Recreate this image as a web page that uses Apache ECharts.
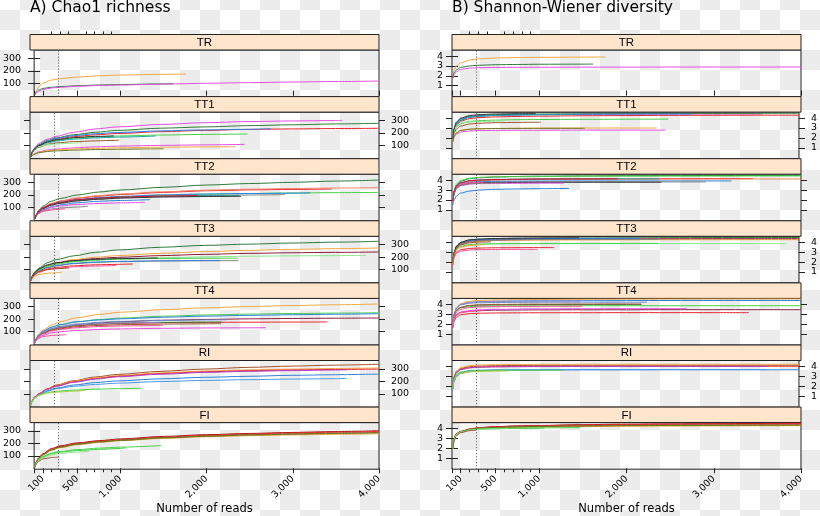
<!DOCTYPE html>
<html><head><meta charset="utf-8">
<script src="https://cdn.jsdelivr.net/npm/echarts@6/dist/echarts.min.js"></script>
<style>
html,body{margin:0;padding:0;}
body{width:820px;height:516px;overflow:hidden;background-color:#fff;
background-image:conic-gradient(transparent 25%, #ececec 0 50%, transparent 0 75%, #ececec 0);
background-size:40px 40px;background-position:0 10px;}
#c{width:820px;height:516px;}
</style></head><body><div id="c"></div>
<script>
// ---------- data ----------
const depths = [10,25,50,100,200,300,500,750,1000,1500,2000,2500,3000,3500,4000];
const panels = ['TR','TT1','TT2','TT3','TT4','RI','FI'];
const xLabelTicks = [100,500,1000,2000,3000,4000];
const xMajorTicks = [0,100,500,1000,2000,3000,4000];
const xMinorTicks = [200,300,400,600,700,800,900];
const chaoTicks = [100,200,300];
const shanTicks = [1,2,3,4];
const cutoffReads = 275;

const TR_ends = [1760,1617,4000];
const TR_chao = [
 [9,40,70,100,125,137,150,160,166,172,174],
 [8,30,45,58,68,73,80,86,90,95,97],
 [7,22,36,50,62,68,76,82,86,93,100,105,110,114,118]];
const TR_shan = [
 [1.9,2.6,3.0,3.3,3.6,3.72,3.8,3.85,3.87,3.89,3.9],
 [1.8,2.3,2.6,2.85,3.0,3.07,3.12,3.15,3.17,3.18,3.19],
 [1.7,2.1,2.4,2.65,2.78,2.82,2.85,2.86,2.87,2.88,2.88,2.89,2.89,2.89,2.89]];

const TT1_ends = [3581,4000,4000,2764,2494,1443,1023,591,2462,2359,1530,964];
const TT1_chao = [
 [9,50,80,115,150,172,205,232,248,268,282,291,296,299,301],
 [9,48,75,105,140,160,185,205,220,238,248,258,265,272,277],
 [9,45,72,100,130,148,170,185,195,210,220,228,232,235,237],
 [9,45,72,100,135,155,178,193,203,216,224,229,233],
 [9,45,70,95,125,140,158,168,175,183,188,191],
 [9,42,65,90,120,135,150,160,166,175],
 [9,40,62,85,108,120,130,136,141,143],
 [9,42,68,90,105,112,118,121],
 [6,20,33,48,62,70,80,88,94,100,104,108],
 [6,18,30,44,56,63,71,76,80,85,88,89],
 [6,18,29,41,51,56,62,66,69,72,73],
 [9,45,70,98,128,145,162,172,176]];
const TT1_shan = [
 [1.8,2.8,3.4,3.8,4.1,4.2,4.28,4.33,4.36,4.39,4.4,4.41,4.42,4.42,4.42],
 [1.9,2.9,3.5,3.9,4.15,4.25,4.33,4.38,4.41,4.44,4.46,4.47,4.48,4.49,4.5],
 [1.8,2.7,3.3,3.7,3.95,4.05,4.12,4.17,4.2,4.24,4.26,4.28,4.29,4.3,4.3],
 [1.8,2.8,3.4,3.8,4.1,4.2,4.28,4.33,4.36,4.39,4.41,4.42,4.42],
 [1.8,2.6,3.1,3.45,3.65,3.74,3.8,3.84,3.86,3.88,3.89,3.9],
 [1.8,2.8,3.4,3.8,4.1,4.2,4.27,4.32,4.35,4.38],
 [1.7,2.5,2.9,3.2,3.4,3.48,3.54,3.57,3.59,3.6],
 [1.8,2.7,3.2,3.5,3.62,3.66,3.69,3.7],
 [1.6,2.1,2.4,2.6,2.7,2.74,2.76,2.77,2.78,2.79,2.79,2.79],
 [1.6,2.2,2.5,2.75,2.88,2.93,2.96,2.98,2.99,3.0,3.0,3.0],
 [1.6,2.2,2.5,2.75,2.88,2.92,2.95,2.96,2.97,2.97,2.97],
 [1.9,3.0,3.6,4.0,4.25,4.35,4.42,4.45,4.46]];

const TT2_ends = [4000,3452,4000,4000,3203,2909,2377,2400,1342,1286,625,358,1900];
const TT2_chao = [
 [9,45,75,110,150,172,200,224,240,262,280,292,302,312,320],
 [9,42,70,100,130,150,174,191,204,221,234,241,245,248],
 [9,42,70,100,132,152,177,195,208,226,239,247,252,256,259],
 [9,40,66,95,125,140,160,175,185,199,207,212,216,219,221],
 [9,40,65,95,125,142,164,179,189,201,208,212,215,217],
 [9,40,65,95,120,135,154,169,179,189,196,200,203],
 [9,40,65,92,122,138,158,172,181,189,193,195],
 [9,40,62,90,118,134,153,166,175,184,188,190],
 [8,35,55,80,105,120,138,150,156,163],
 [8,35,55,78,100,112,124,132,137,141],
 [8,33,52,72,88,96,104,109],
 [8,32,50,68,80,86,90],
 [9,40,65,95,125,142,162,175,183,192,196]];
const TT2_shan = [
 [1.9,2.9,3.5,3.9,4.15,4.25,4.33,4.38,4.41,4.44,4.46,4.47,4.48,4.48,4.49],
 [1.9,2.9,3.4,3.7,3.9,3.98,4.05,4.09,4.11,4.13,4.15,4.16,4.17,4.17],
 [1.9,2.8,3.3,3.65,3.88,3.96,4.02,4.06,4.08,4.1,4.11,4.12,4.12,4.13,4.13],
 [1.9,3.0,3.6,4.0,4.2,4.28,4.33,4.36,4.38,4.4,4.41,4.42,4.42,4.43,4.43],
 [1.8,2.8,3.3,3.6,3.78,3.85,3.89,3.91,3.92,3.93,3.93,3.93,3.93,3.93],
 [1.8,2.7,3.2,3.5,3.68,3.74,3.78,3.8,3.81,3.82,3.83,3.83,3.83],
 [1.9,2.9,3.4,3.75,3.95,4.03,4.08,4.1,4.12,4.13,4.14,4.14],
 [1.8,2.7,3.2,3.5,3.68,3.74,3.78,3.79,3.8,3.8,3.8,3.8],
 [1.5,2.0,2.4,2.7,2.9,3.0,3.08,3.12,3.15,3.17],
 [1.8,2.7,3.2,3.45,3.6,3.65,3.68,3.69,3.7,3.7],
 [1.8,2.7,3.2,3.5,3.65,3.7,3.73,3.74],
 [1.8,2.8,3.3,3.6,3.74,3.8,3.82],
 [1.9,2.9,3.4,3.75,3.95,4.02,4.07,4.1,4.12,4.14,4.15]];

const TT3_ends = [4000,4000,4000,3852,2393,2172,2383,1465,1179,990,370,450];
const TT3_chao = [
 [9,48,78,110,155,180,210,238,257,279,294,304,313,320,327],
 [9,42,70,100,135,155,180,199,212,230,244,254,262,268,273],
 [9,42,70,100,130,150,172,188,198,212,222,230,235,238,241],
 [9,40,66,95,125,142,160,174,184,195,202,207,210,212,214],
 [9,38,60,88,115,130,147,158,163,169,171,172],
 [9,40,62,90,118,133,150,160,165,170,172,172],
 [9,40,66,95,128,145,165,177,184,189,191,192],
 [9,45,72,105,138,155,172,182,188,193],
 [8,35,58,82,105,117,130,138,142,145],
 [8,33,54,77,98,110,122,129,132],
 [8,30,45,60,70,75,79],
 [8,38,60,85,100,107,112]];
const TT3_shan = [
 [1.9,3.0,3.6,4.0,4.22,4.3,4.36,4.4,4.42,4.44,4.46,4.47,4.48,4.48,4.49],
 [1.9,2.9,3.5,3.85,4.05,4.12,4.17,4.2,4.22,4.24,4.25,4.26,4.26,4.27,4.27],
 [1.9,2.9,3.5,3.9,4.12,4.2,4.26,4.3,4.32,4.34,4.35,4.36,4.37,4.37,4.37],
 [1.8,2.8,3.3,3.6,3.76,3.81,3.84,3.85,3.86,3.87,3.87,3.87,3.87,3.87,3.87],
 [1.8,2.8,3.4,3.8,4.05,4.15,4.22,4.26,4.28,4.3,4.31,4.31],
 [1.9,3.0,3.6,3.95,4.2,4.28,4.33,4.36,4.38,4.4,4.41,4.41],
 [1.8,2.8,3.3,3.6,3.76,3.82,3.86,3.88,3.89,3.9,3.9,3.9],
 [1.9,3.0,3.6,4.0,4.25,4.33,4.39,4.42,4.44,4.46],
 [1.7,2.6,3.0,3.25,3.38,3.42,3.45,3.46,3.47,3.47],
 [1.7,2.5,2.9,3.1,3.22,3.26,3.28,3.29,3.3],
 [1.8,2.7,3.2,3.5,3.68,3.74,3.77],
 [1.9,2.9,3.4,3.75,3.95,4.02,4.05]];

const TT4_ends = [4000,4000,4000,4000,3403,2233,2172,2168,2688,1500,1470,374];
const TT4_chao = [
 [9,50,80,112,152,180,212,238,256,277,291,302,310,316,322],
 [9,45,72,100,135,155,180,197,209,224,234,241,246,249,252],
 [9,45,72,102,136,156,180,194,203,216,225,231,236,240,244],
 [9,40,65,95,120,135,155,170,180,192,198,203,206,208,210],
 [9,38,62,90,115,130,148,160,166,172,175,176,177,178],
 [9,42,68,95,125,142,162,175,183,190,194,196],
 [9,40,64,90,118,134,152,163,170,175,177,178],
 [9,38,60,85,110,123,140,150,156,161,163,164],
 [8,30,48,70,90,100,110,117,122,127,130,131,132],
 [8,35,55,80,105,118,132,141,146,151],
 [9,42,66,94,122,137,155,165,170,175],
 [7,30,45,60,70,73,76]];
const TT4_shan = [
 [2.0,3.1,3.7,4.1,4.32,4.4,4.45,4.48,4.5,4.52,4.53,4.54,4.55,4.55,4.55],
 [1.9,2.9,3.4,3.65,3.77,3.81,3.84,3.85,3.86,3.87,3.87,3.87,3.87,3.87,3.87],
 [1.9,3.0,3.6,4.0,4.2,4.27,4.32,4.35,4.37,4.38,4.39,4.4,4.4,4.4,4.4],
 [1.8,2.6,3.0,3.2,3.33,3.38,3.42,3.44,3.45,3.46,3.46,3.47,3.47,3.47,3.47],
 [1.6,2.3,2.7,2.95,3.07,3.11,3.14,3.15,3.16,3.16,3.17,3.17,3.17,3.17],
 [1.9,3.0,3.6,3.95,4.12,4.17,4.2,4.21,4.22,4.23,4.23,4.23],
 [1.9,2.9,3.4,3.7,3.88,3.93,3.96,3.98,3.99,4.0,4.0,4.0],
 [1.9,2.9,3.4,3.7,3.9,3.96,4.0,4.02,4.03,4.04,4.05,4.05],
 [1.7,2.5,2.9,3.2,3.38,3.45,3.5,3.53,3.55,3.56,3.57,3.57,3.57],
 [1.8,2.7,3.2,3.5,3.68,3.74,3.78,3.8,3.81,3.82],
 [1.9,3.0,3.6,4.0,4.2,4.26,4.3,4.32,4.33,4.34],
 [1.7,2.5,2.9,3.15,3.3,3.35,3.37]];

const RI_ends = [4000,4000,4000,4000,3630,3640,1277,640];
const RI_chao = [
 [9,45,72,100,140,170,205,235,255,280,298,312,322,330,337],
 [9,45,72,100,140,165,200,228,245,268,282,292,298,303,307],
 [9,45,72,100,138,162,195,222,240,262,276,285,291,295,298],
 [9,40,64,90,125,145,170,190,203,220,232,240,248,253,258],
 [9,40,62,90,120,140,160,175,185,198,207,213,218,221,224],
 [9,44,70,98,136,160,192,218,236,257,271,280,286,291,293],
 [9,42,66,90,110,120,130,137,141,144],
 [9,42,66,88,105,113,121,126]];
const RI_shan = [
 [1.9,3.0,3.5,3.8,3.98,4.05,4.09,4.11,4.12,4.13,4.13,4.13,4.13,4.13,4.13],
 [1.9,3.0,3.55,3.9,4.08,4.15,4.19,4.21,4.22,4.23,4.23,4.23,4.23,4.23,4.23],
 [1.9,2.9,3.4,3.7,3.88,3.95,3.99,4.01,4.02,4.03,4.03,4.03,4.03,4.03,4.03],
 [1.7,2.5,3.0,3.3,3.5,3.57,3.62,3.64,3.65,3.66,3.66,3.67,3.67,3.67,3.67],
 [1.7,2.6,3.1,3.4,3.57,3.63,3.67,3.68,3.69,3.7,3.7,3.7,3.7,3.7,3.7],
 [1.9,2.9,3.4,3.7,3.87,3.93,3.96,3.98,3.99,4.0,4.0,4.0,4.0,4.0,4.0],
 [1.8,2.8,3.2,3.45,3.56,3.6,3.62,3.63,3.63,3.63],
 [1.8,2.6,3.0,3.3,3.45,3.5,3.54,3.55]];

const FI_ends = [4000,4000,4000,4000,4000,1474,1060,646,280];
const FI_chao = [
 [10,50,82,115,158,180,204,222,236,256,270,280,288,295,302],
 [10,48,80,112,155,177,200,218,231,251,265,276,284,290,296],
 [10,45,75,106,145,166,189,207,221,240,253,262,268,273,277],
 [10,47,78,110,150,172,196,214,227,247,260,270,277,283,288],
 [10,46,77,108,147,169,193,211,224,244,257,267,274,280,285],
 [9,42,66,95,122,136,150,162,170,182],
 [9,40,64,90,116,129,142,152,160,164],
 [9,40,62,85,106,120,130,137],
 [9,35,55,75,87,90]];
const FI_shan = [
 [2.0,3.0,3.5,3.72,3.96,4.1,4.2,4.28,4.32,4.4,4.45,4.48,4.5,4.52,4.55],
 [2.0,3.0,3.5,3.7,3.94,4.08,4.18,4.25,4.3,4.37,4.41,4.44,4.46,4.48,4.5],
 [2.0,2.9,3.45,3.66,3.88,4.0,4.08,4.14,4.17,4.21,4.24,4.26,4.28,4.29,4.3],
 [2.0,3.0,3.48,3.7,3.92,4.05,4.14,4.2,4.24,4.3,4.34,4.37,4.38,4.39,4.4],
 [2.0,2.95,3.46,3.68,3.9,4.03,4.11,4.17,4.21,4.26,4.3,4.32,4.33,4.34,4.35],
 [2.0,2.9,3.4,3.65,3.85,3.95,4.02,4.06,4.08,4.1],
 [2.0,2.9,3.4,3.65,3.85,3.95,4.0,4.03,4.05,4.06],
 [2.0,2.9,3.4,3.65,3.85,3.93,3.98,4.0],
 [1.9,2.8,3.3,3.6,3.8,3.85]];

// ---------- styles ----------
const COL = {orange:'#f5a742', magenta:'#e24ee2', dkgreen:'#2e7a3a', red:'#e8262e', blue:'#2f80dd',
  green:'#46d046', brown:'#a0522d', gray:'#808080', teal:'#18a5a5', pink:'#ff4f9a', black:'#333333',
  maroon:'#8b1c3c', salmon:'#f28060', ltgreen:'#8ee88e', olive:'#6b7a1e', steel:'#6a8ac8',
  crimson:'#c8102e', lilac:'#9a86c8', purple:'#b040c8', dkred:'#a01010', ygreen:'#a8d040', ltblue:'#4a9ae8'};
const TR_colors = [COL.orange, COL.dkgreen, COL.magenta];
const TT1_colors = [COL.magenta, COL.dkgreen, COL.red, COL.blue, COL.green, COL.teal, COL.brown, COL.ltgreen, COL.magenta, COL.orange, COL.olive, COL.black];
const TT2_colors = [COL.dkgreen, COL.red, COL.salmon, COL.green, COL.blue, COL.gray, COL.teal, COL.black, COL.blue, COL.magenta, COL.gray, COL.pink, COL.crimson];
const TT3_colors = [COL.dkgreen, COL.orange, COL.maroon, COL.ltgreen, COL.gray, COL.blue, COL.green, COL.black, COL.red, COL.pink, COL.orange, COL.brown];
const TT4_colors = [COL.orange, COL.green, COL.blue, COL.maroon, COL.red, COL.steel, COL.dkgreen, COL.brown, COL.magenta, COL.pink, COL.lilac, COL.pink];
const RI_colors = [COL.brown, COL.orange, COL.red, COL.blue, COL.ltblue, COL.purple, COL.green, COL.ygreen];
const FI_colors = [COL.dkred, COL.red, COL.orange, COL.brown, COL.olive, COL.green, COL.green, COL.ltgreen, COL.brown];

const DATA = {
  TR:{ends:TR_ends, chao:TR_chao, shan:TR_shan, colors:TR_colors},
  TT1:{ends:TT1_ends, chao:TT1_chao, shan:TT1_shan, colors:TT1_colors},
  TT2:{ends:TT2_ends, chao:TT2_chao, shan:TT2_shan, colors:TT2_colors},
  TT3:{ends:TT3_ends, chao:TT3_chao, shan:TT3_shan, colors:TT3_colors},
  TT4:{ends:TT4_ends, chao:TT4_chao, shan:TT4_shan, colors:TT4_colors},
  RI:{ends:RI_ends, chao:RI_chao, shan:RI_shan, colors:RI_colors},
  FI:{ends:FI_ends, chao:FI_chao, shan:FI_shan, colors:FI_colors}
};

// ---------- layout ----------
const LINE = '#222';
const TICKFONT = 'DejaVu Sans';
const sides = [
  {key:'chao', left:30, width:349, min:-7, max:367, ticks:chaoTicks, title:'A) Chao1 richness', lm:13, rm:12},
  {key:'shan', left:452, width:349, min:-0.1, max:4.61, ticks:shanTicks, title:'B) Shannon-Wiener diversity', lm:9, rm:12}
];
const top0 = 34.5, unit = 62.1, stripH = 15.5;

function pts(end, vals){
  const out = [];
  for (let i=0;i<vals.length-1;i++){ if (depths[i] < end) out.push([depths[i], vals[i]]); }
  out.push([end, vals[vals.length-1]]);
  return out;
}

const grid=[], xAxis=[], yAxis=[], series=[], graphic=[];
sides.forEach((sd, s) => {
  graphic.push({type:'text', x:sd.left, y:8, style:{text:sd.title, fill:'#000', font:'15.5px "DejaVu Sans"', align:'left', verticalAlign:'middle'}});
  graphic.push({type:'text', x:sd.left + sd.width/2, y:509.5, style:{text:'Number of reads', fill:'#000', font:'11.5px "DejaVu Sans"', align:'center', verticalAlign:'middle'}});
  panels.forEach((p, i) => {
    const g = grid.length;
    const stripTop = top0 + i*unit;
    grid.push({left:sd.left, top:stripTop + stripH, width:sd.width, height:unit - stripH,
      show:true, borderColor:LINE, borderWidth:1, backgroundColor:'transparent'});
    graphic.push({type:'rect', shape:{x:sd.left, y:stripTop, width:sd.width, height:stripH},
      style:{fill:'#ffe5cc', stroke:LINE, lineWidth:1}});
    graphic.push({type:'text', x:sd.left + sd.width/2, y:stripTop + stripH/2 + 0.5,
      style:{text:p, fill:'#000', font:'11.5px "Liberation Sans Narrow", "Liberation Sans", sans-serif', align:'center', verticalAlign:'middle'}});
    const xi = xAxis.length;
    xAxis.push({gridIndex:g, type:'value', min:0, max:4000, axisLine:{show:false}, axisTick:{show:false}, axisLabel:{show:false}, splitLine:{show:false}});
    if (i === 0) {
      xAxis.push({gridIndex:g, type:'value', min:0, max:4000, position:'top', offset:stripH, axisLine:{show:false},
        axisTick:{show:true, inside:false, length:5, customValues:xMajorTicks, lineStyle:{color:LINE}}, axisLabel:{show:false}, splitLine:{show:false}});
      xAxis.push({gridIndex:g, type:'value', min:0, max:4000, position:'top', offset:stripH, axisLine:{show:false},
        axisTick:{show:true, inside:false, length:3, customValues:xMinorTicks, lineStyle:{color:LINE}}, axisLabel:{show:false}, splitLine:{show:false}});
    }
    if (i === panels.length-1) {
      xAxis.push({gridIndex:g, type:'value', min:0, max:4000, position:'bottom', axisLine:{show:false},
        axisTick:{show:true, inside:false, length:5, customValues:xMajorTicks, lineStyle:{color:LINE}},
        axisLabel:{show:true, customValues:xLabelTicks, rotate:45, margin:8, fontSize:9.5, fontFamily:TICKFONT, color:'#000',
          formatter:v => Number(v).toLocaleString('en-US')}, splitLine:{show:false}});
      xAxis.push({gridIndex:g, type:'value', min:0, max:4000, position:'bottom', axisLine:{show:false},
        axisTick:{show:true, inside:false, length:3, customValues:xMinorTicks, lineStyle:{color:LINE}}, axisLabel:{show:false}, splitLine:{show:false}});
    }
    const labelLeft = (i % 2 === 0);
    const yi = yAxis.length;
    ['left','right'].forEach(pos => {
      const showL = (pos === 'left') === labelLeft;
      yAxis.push({gridIndex:g, type:'value', position:pos, min:sd.min, max:sd.max,
        axisLine:{show:false},
        axisTick:{show:true, inside:false, length:6, customValues:sd.ticks, lineStyle:{color:LINE}},
        axisLabel:{show:showL, customValues:sd.ticks, margin:pos==='left'?sd.lm:sd.rm, fontSize:9.5, fontFamily:TICKFONT, color:'#000'},
        splitLine:{show:false}});
    });
    const d = DATA[p];
    const vals = d[sd.key];
    vals.forEach((v, k) => {
      const ser = {type:'line', xAxisIndex:xi, yAxisIndex:yi, data:pts(d.ends[k], v),
        showSymbol:false, symbol:'none', smooth:0.3, smoothMonotone:'x', silent:true, clip:true,
        lineStyle:{width:1, color:d.colors[k]}, itemStyle:{color:d.colors[k]}, z:2};
      if (k === 0) {
        ser.markLine = {silent:true, symbol:['none','none'], label:{show:false}, animation:false,
          lineStyle:{type:[1,2], color:'#555', width:1}, data:[{xAxis:cutoffReads}]};
      }
      series.push(ser);
    });
  });
});

const chart = echarts.init(document.getElementById('c'), null, {renderer:'canvas'});
chart.setOption({backgroundColor:'transparent', animation:false, grid, xAxis, yAxis, series, graphic});
</script></body></html>
